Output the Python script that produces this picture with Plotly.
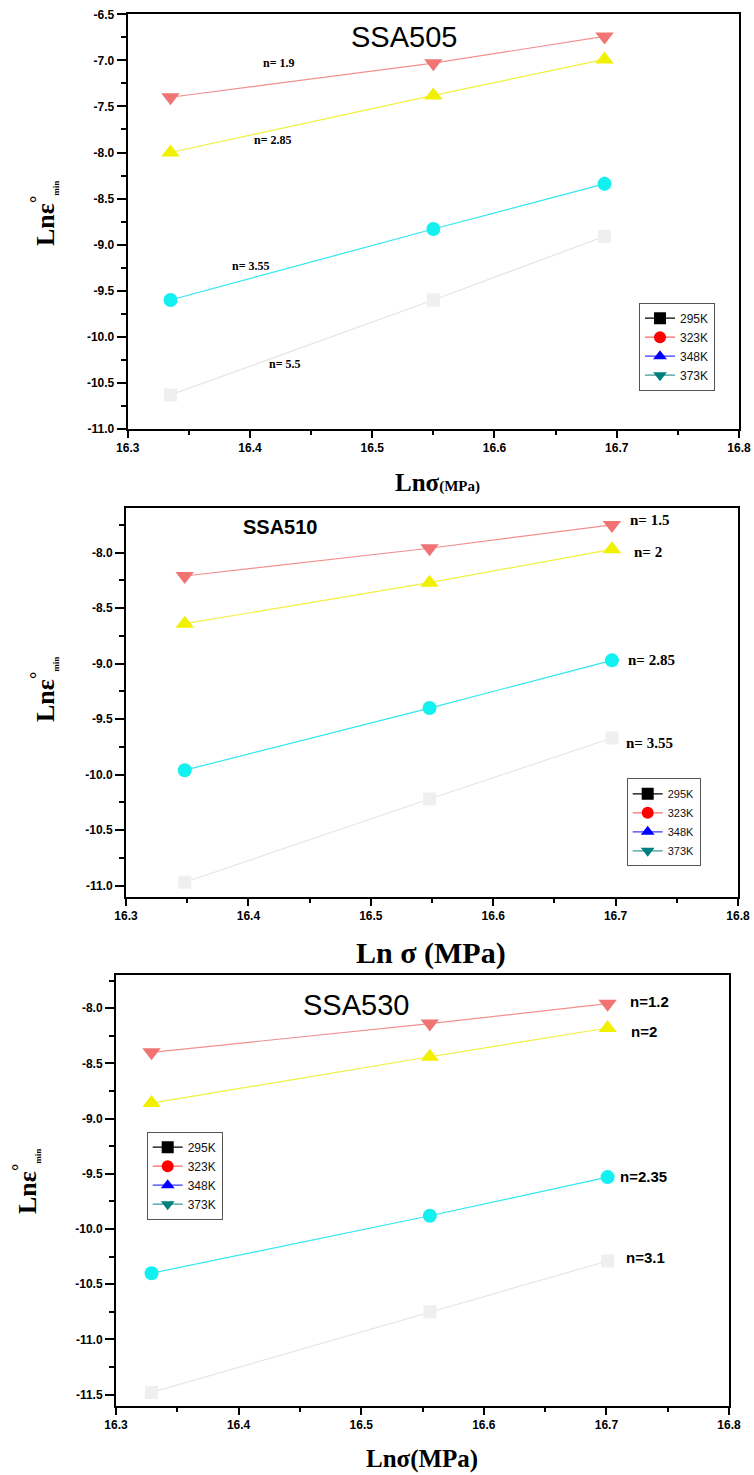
import plotly.graph_objects as go

W, H = 754, 1475

# ---------------- data ----------------
temps = ["295K", "323K", "348K", "373K"]

# SSA505
x505 = [16.335, 16.55, 16.69]
y505 = {
    "295K": [-10.63, -9.60, -8.91],
    "323K": [-9.60, -8.83, -8.34],
    "348K": [-8.00, -7.38, -6.99],
    "373K": [-7.40, -7.03, -6.74],
}
n505 = ["n= 5.5", "n= 3.55", "n= 2.85", "n= 1.9"]

# SSA510
x510 = [16.348, 16.548, 16.697]
y510 = {
    "295K": [-10.97, -10.22, -9.67],
    "323K": [-9.96, -9.40, -8.97],
    "348K": [-8.64, -8.27, -7.97],
    "373K": [-8.21, -7.96, -7.75],
}
n510 = ["n= 3.55", "n= 2.85", "n= 2", "n= 1.5"]

# SSA530
x530 = [16.329, 16.556, 16.701]
y530 = {
    "295K": [-11.48, -10.75, -10.29],
    "323K": [-10.40, -9.88, -9.53],
    "348K": [-8.86, -8.44, -8.18],
    "373K": [-8.40, -8.14, -7.96],
}
n530 = ["n=3.1", "n=2.35", "n=2", "n=1.2"]

x_ticks = [16.3, 16.4, 16.5, 16.6, 16.7, 16.8]
x_ticktext = ["16.3", "16.4", "16.5", "16.6", "16.7", "16.8"]
y_ticks_505 = [-11.0, -10.5, -10.0, -9.5, -9.0, -8.5, -8.0, -7.5, -7.0, -6.5]
y_ticks_510 = [-11.0, -10.5, -10.0, -9.5, -9.0, -8.5, -8.0]
y_ticks_530 = [-11.5, -11.0, -10.5, -10.0, -9.5, -9.0, -8.5, -8.0]

# ---------------- styles ----------------
data_style = {
    "295K": dict(symbol="square", color="#efefef", line="#e6e6e6", size=13),
    "323K": dict(symbol="circle", color="#12f0f0", line="#30e8f0", size=14),
    "348K": dict(symbol="triangle-up", color="#f0f000", line="#f0f040", size=16),
    "373K": dict(symbol="triangle-down", color="#f07474", line="#f29090", size=16),
}
legend_style = {
    "295K": dict(symbol="square", color="#000000", line="#000000"),
    "323K": dict(symbol="circle", color="#ff0000", line="#ff6a6a"),
    "348K": dict(symbol="triangle-up", color="#0000ff", line="#3a3aff"),
    "373K": dict(symbol="triangle-down", color="#007f7f", line="#3f9a9a"),
}


def fx(x):
    return x / W


def fy(y):
    return 1 - y / H


def px(x, y):
    return fx(x), fy(y)


fig = go.Figure()

panels = [
    dict(xs=x505, ys=y505, xa="x", ya="y", leg="legend"),
    dict(xs=x510, ys=y510, xa="x2", ya="y2", leg="legend2"),
    dict(xs=x530, ys=y530, xa="x3", ya="y3", leg="legend3"),
]

for p in panels:
    for t in temps:
        s = data_style[t]
        fig.add_trace(go.Scatter(
            x=p["xs"], y=p["ys"][t], mode="lines+markers",
            xaxis=p["xa"], yaxis=p["ya"], showlegend=False,
            line=dict(color=s["line"], width=1.2),
            marker=dict(symbol=s["symbol"], color=s["color"], size=s["size"], line=dict(width=0)),
        ))
    for t in temps:
        s = legend_style[t]
        fig.add_trace(go.Scatter(
            x=[None], y=[None], mode="lines+markers", name=t,
            xaxis=p["xa"], yaxis=p["ya"], legend=p["leg"],
            line=dict(color=s["line"], width=1.2),
            marker=dict(symbol=s["symbol"], color=s["color"], size=12, line=dict(width=0)),
        ))


def xaxis_cfg(x0, x1, anchor):
    return dict(
        domain=[fx(x0), fx(x1)], range=[16.3, 16.8], anchor=anchor, automargin=False,
        tickmode="array", tickvals=x_ticks, ticktext=x_ticktext,
        ticks="outside", ticklen=7, tickwidth=2, tickcolor="black",
        minor=dict(tickmode="linear", tick0=16.35, dtick=0.1, ticks="outside", ticklen=4, tickwidth=1.5, tickcolor="black"),
        showline=True, linewidth=2, linecolor="black", mirror=True,
        showgrid=False, zeroline=False,
        tickfont=dict(family="Liberation Sans, Arial", size=12, color="black", weight="bold"),
    )


def yaxis_cfg(y_top, y_bottom, rng, tickvals, anchor):
    return dict(
        domain=[fy(y_bottom), fy(y_top)], range=rng, anchor=anchor, automargin=False,
        tickmode="array", tickvals=tickvals, ticktext=["%.1f" % v for v in tickvals],
        ticks="outside", ticklen=9, tickwidth=2, tickcolor="black",
        minor=dict(tickmode="linear", tick0=-6.75, dtick=0.5, ticks="outside", ticklen=5, tickwidth=1.5, tickcolor="black"),
        showline=True, linewidth=2, linecolor="black", mirror=True,
        showgrid=False, zeroline=False,
        tickfont=dict(family="Liberation Sans, Arial", size=12, color="black", weight="bold"),
    )


fig.update_layout(
    width=W, height=H, margin=dict(l=0, r=0, t=0, b=0, pad=0, autoexpand=False),
    paper_bgcolor="white", plot_bgcolor="white",
    xaxis=xaxis_cfg(127.7, 739, "y"),
    yaxis=yaxis_cfg(14.3, 429, [-11.0, -6.5], y_ticks_505, "x"),
    xaxis2=xaxis_cfg(126, 738, "y2"),
    yaxis2=yaxis_cfg(508.3, 896.7, [-11.1, -7.6], y_ticks_510, "x2"),
    xaxis3=xaxis_cfg(116, 729, "y3"),
    yaxis3=yaxis_cfg(975, 1405.7, [-11.6, -7.7], y_ticks_530, "x3"),
)

leg_common = dict(
    xanchor="left", yanchor="top", bgcolor="white",
    bordercolor="#555555", borderwidth=1, itemwidth=30,
    font=dict(family="Liberation Sans, Arial", size=12, color="#111111"),
    tracegroupgap=0,
)
lx, ly = px(639, 302.7)
fig.update_layout(legend=dict(leg_common, x=lx, y=ly))
lx, ly = px(626.7, 778.3)
fig.update_layout(legend2=dict(leg_common, x=lx, y=ly, font=dict(family="Liberation Sans, Arial", size=11, color="#111111")))
lx, ly = px(146.7, 1131.7)
fig.update_layout(legend3=dict(leg_common, x=lx, y=ly))

ann = []


def add_text(x, y, text, size, family, bold=False, angle=0, color="black"):
    ax_, ay_ = px(x, y)
    ann.append(dict(
        x=ax_, y=ay_, xref="paper", yref="paper", text=text, showarrow=False,
        xanchor="center", yanchor="middle", textangle=angle, borderpad=0,
        font=dict(family=family, size=size, color=color, weight="bold" if bold else "normal"),
    ))


serif = "Liberation Serif, Times New Roman"
sans = "Liberation Sans, Arial"

# titles
add_text(404, 37, "SSA505", 29, sans)
add_text(280, 527, "SSA510", 20, sans, bold=True)
add_text(356, 1005, "SSA530", 29, sans)

# n labels
for (x, y), t in zip([(285, 364), (251, 266), (273, 140), (279, 63)], n505):
    add_text(x, y, t, 12, serif, bold=True)
for (x, y), t in zip([(649, 743), (651, 660), (648, 552), (649, 520)], n510):
    add_text(x, y, t, 15, serif, bold=True)
for (x, y), t in zip([(645, 1257), (643, 1176), (644, 1031), (649, 1002)], n530):
    add_text(x, y, t, 15, sans, bold=True)

# axis titles
ylab = "Lnε<sup>°</sup><sub><span style='font-size:9px'>min</span></sub>"
add_text(44, 214, ylab, 26, serif, bold=True, angle=-90)
add_text(44, 690, ylab, 26, serif, bold=True, angle=-90)
add_text(26, 1182, ylab, 26, serif, bold=True, angle=-90)

add_text(437, 483, "Lnσ<span style='font-size:15px'>(MPa)</span>", 25, serif, bold=True)
add_text(431, 953, "Ln σ (MPa)", 30, serif, bold=True)
add_text(422, 1459, "Lnσ(MPa)", 25, serif, bold=True)

fig.update_layout(annotations=ann)

fig.write_html(
    "out.html",
    post_script="document.body.style.margin='0';document.body.style.overflow='hidden';",
)
